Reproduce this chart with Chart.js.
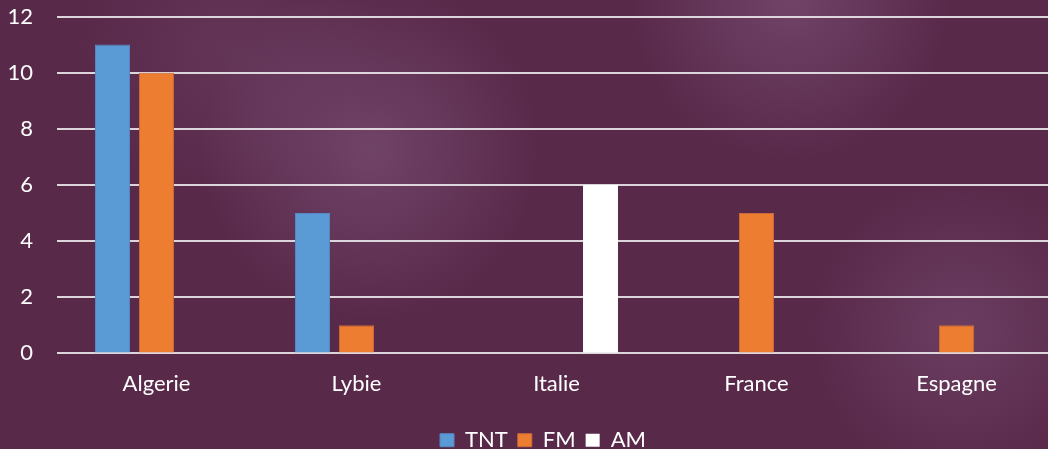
<!DOCTYPE html>
<html>
<head>
<meta charset="utf-8">
<script src="https://cdn.jsdelivr.net/npm/chart.js@4"></script>
<style>
  html, body { margin: 0; padding: 0; }
  body { width: 1048px; height: 449px; overflow: hidden; }
  #wrap {
    width: 1048px; height: 449px; overflow: hidden; position: relative;
    background:
      radial-gradient(circle at 370px 150px, rgba(140,100,140,0.45) 0, rgba(140,100,140,0) 170px),
      radial-gradient(circle at 790px 0px, rgba(140,100,140,0.45) 0, rgba(140,100,140,0) 160px),
      radial-gradient(circle at 960px 330px, rgba(140,100,140,0.35) 0, rgba(140,100,140,0) 150px),
      radial-gradient(circle at 230px 50px, rgba(140,100,140,0.2) 0, rgba(140,100,140,0) 150px),
      #59294a;
  }
  canvas { display: block; }
</style>
</head>
<body>
<div id="wrap"><canvas id="chart" width="1086" height="449"></canvas></div>
<script>
// categories and series
const countries = ['Algerie', 'Lybie', 'Italie', 'France', 'Espagne'];
const tnt = [11, 5, 0, 0, 0];
const fm = [10, 1, 0, 5, 1];
const am = [0, 0, 6, 0, 0];

const font = { family: 'Lato', size: 22 };

new Chart(document.getElementById('chart'), {
  type: 'bar',
  data: {
    labels: countries,
    datasets: [
      { label: 'TNT', data: tnt, backgroundColor: '#5b9bd5', borderColor: '#5688c4', borderWidth: 1 },
      { label: 'FM', data: fm, backgroundColor: '#ed7d31', borderColor: '#c96a3a', borderWidth: 1 },
      { label: 'AM', data: am, backgroundColor: '#ffffff', borderColor: '#ffffff', borderWidth: 0 }
    ]
  },
  options: {
    responsive: false,
    animation: false,
    categoryPercentage: 0.66,
    barPercentage: 0.795,
    layout: { padding: { top: 16.5, bottom: -12.2, left: 0, right: 0 } },
    plugins: {
      tooltip: { enabled: false },
      legend: {
        position: 'bottom',
        labels: { color: '#ffffff', font: font, boxWidth: 14, boxHeight: 13, padding: 10 }
      }
    },
    scales: {
      x: {
        grid: { display: false, drawTicks: false },
        border: { display: false },
        ticks: { color: '#ffffff', font: font, padding: 17.8 },
        afterFit: s => { s.height = 65.8; }
      },
      y: {
        min: 0, max: 12,
        ticks: { stepSize: 2, color: '#ffffff', font: font, padding: 23.5 },
        grid: { color: 'rgba(228,222,228,0.95)', lineWidth: 2, drawTicks: false },
        border: { display: false },
        afterFit: s => { s.width = 56.5; s.paddingTop = 0; s.paddingBottom = 0; }
      },
      // keeps the original right margin so the legend centres like the source
      y2: {
        position: 'right',
        grid: { display: false },
        border: { display: false },
        ticks: { display: false },
        afterFit: s => { s.width = 29.5; }
      }
    }
  }
});
</script>
</body>
</html>
